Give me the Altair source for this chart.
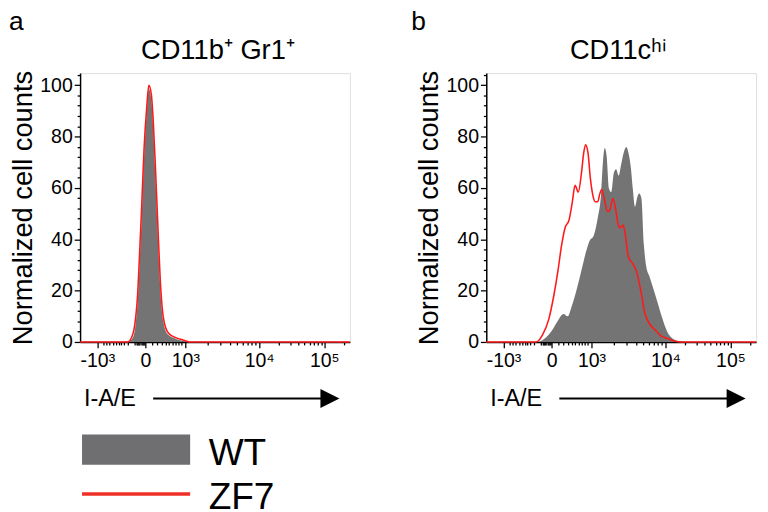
import altair as alt
import pandas as pd

FONT = "Liberation Sans"
GRAY = "#747474"
RED = "#ff1a1a"

# I-A/E is shown on a biexponential display scale: positions are display channels (0-1000)
a_wt_ch = [180, 197, 208, 214, 220, 228, 238, 248, 255, 263, 270, 278, 287, 296, 308, 325, 355, 380, 400]
a_wt_val = [0, 2, 9, 16.5, 29, 48, 73.5, 90.5, 98.5, 95, 85, 67, 44.5, 23, 8.2, 3, 1.2, 0.5, 0]
a_zf7_ch = [0, 177, 195, 207, 213, 219, 227, 237, 247, 255, 264, 271, 279, 288, 297, 309, 327, 357, 381, 405, 1000]
a_zf7_val = [0, 0, 2.9, 10.5, 18, 30.7, 49.7, 75, 91.4, 100, 96.4, 86.3, 68.6, 45.9, 24.4, 9.2, 3.5, 1.6, 0.8, 0, 0]

b_wt_ch = [196, 220, 244, 266, 286, 302, 317, 335, 353, 371, 383, 398, 413, 425, 433, 439, 446, 455,
           463, 473, 481, 491, 499, 509, 519, 527, 535, 543, 551, 560, 567, 575, 584, 593, 605, 620,
           635, 653, 671, 690, 714, 732]
b_wt_val = [0, 1.6, 4.6, 8.4, 10.9, 10, 14, 20.4, 28, 35.6, 39.4, 41.4, 48.3, 57.1, 71.1, 75.5, 72.4, 59.7,
            58.4, 66, 67.3, 64.8, 68.6, 73.6, 75.9, 73.6, 68.6, 59.7, 52.7, 56.5, 57.8, 55.9, 38.1, 29.3, 25.5, 20.4,
            15.3, 9, 3.9, 1.4, 0.4, 0]
b_zf7_ch = [0, 184, 208, 232, 250, 266, 278, 292, 307, 319, 329, 341, 353, 361, 368, 377, 386, 395, 404,
            413, 421, 428, 437, 449, 458, 469, 479, 489, 497, 507, 515, 527, 543, 557, 572, 587, 605,
            627, 647, 671, 696, 720, 1000]
b_zf7_val = [0, 0, 2.7, 9, 17.9, 28, 36.9, 44.5, 47.6, 54.6, 61, 58.4, 66, 73.6, 76.8, 73.6, 63.5, 57.1, 54.6,
             54.6, 57.8, 59.4, 55.9, 50.8, 51.4, 55.9, 52.1, 45.7, 44.5, 45.5, 41.9, 33, 30.5, 27.4, 20.4, 11.5, 7.1,
             4.6, 2.4, 1.4, 0.4, 0, 0]

# axis ticks (display channels)
x_major = [64, 242, 390, 664, 905]
x_major_labels = ["-10³", "0", "10³", "10⁴", "10⁵"]
x_minor = [86, 97, 109, 122, 134, 143, 152, 162, 176, 202, 208, 213, 218, 222, 226, 230, 234, 238,
           266, 284, 302, 317, 330, 342, 354, 365, 374,
           472, 521, 555, 581, 603, 622, 637, 651,
           736, 779, 809, 832, 851, 868, 882, 894, 977]
y_ticks = list(range(0, 105, 4))

series = ["WT", "ZF7"]
series_colors = ["#6f6f71", "#ee3026"]
series_widths = [31, 3.5]
legend_rows = [386.5, 432]

panel_titles = ["CD11b⁺ Gr1⁺", "CD11cʰⁱ"]
panel_letters = ["a", "b"]

W, H = 277, 276

label_expr = "''"
for v, l in reversed(list(zip(x_major, x_major_labels))):
    label_expr = f"datum.value === {v} ? '{l}' : " + label_expr


def panel(wt_ch, wt_val, zf_ch, zf_val, title, title_dx, letter, letter_x, with_legend):
    wt = pd.DataFrame({"ch": wt_ch, "val": wt_val})
    zf = pd.DataFrame({"ch": zf_ch, "val": zf_val})
    xscale = alt.Scale(domain=[0, 1000], nice=False, zero=False)
    yscale = alt.Scale(domain=[0, 104.7], nice=False)
    xaxis = alt.Axis(
        values=sorted(x_major + x_minor), labelExpr=label_expr, title=None,
        tickSize={"condition": {"test": f"indexof({x_major}, datum.value) >= 0", "value": 6}, "value": 3},
        labelFont=FONT, labelFontSize=20, labelColor="black", labelOverlap=False, labelFlush=False,
        labelPadding=3, domainColor="black", domainWidth=1.5, tickColor="black", tickWidth=1.3, grid=False,
    )
    yaxis = alt.Axis(
        values=y_ticks, labelExpr="datum.value % 20 === 0 ? datum.label : ''",
        tickSize={"condition": {"test": "datum.value % 20 === 0", "value": 6}, "value": 3},
        title="Normalized cell counts", titleFont=FONT, titleFontSize=28, titleFontWeight="normal",
        titleColor="black", titlePadding=3,
        labelFont=FONT, labelFontSize=20, labelColor="black", labelOverlap=False, labelPadding=2,
        domainColor="black", domainWidth=1.5, tickColor="black", tickWidth=1.3, grid=False,
    )
    area = alt.Chart(wt).mark_area(color=GRAY, interpolate="monotone", opacity=1).encode(
        x=alt.X("ch:Q", scale=xscale, axis=xaxis),
        y=alt.Y("val:Q", scale=yscale, axis=yaxis),
    )
    line = alt.Chart(zf).mark_line(color=RED, strokeWidth=1.6, interpolate="monotone").encode(
        x=alt.X("ch:Q", scale=xscale, axis=xaxis), y=alt.Y("val:Q", scale=yscale, axis=yaxis)
    )
    one = pd.DataFrame({"t": [letter], "xt": ["I-A/E"], "title": [title]})
    let = alt.Chart(one).mark_text(align="left", baseline="alphabetic", fontSize=27, font=FONT, color="black").encode(
        x=alt.value(letter_x), y=alt.value(-44), text="t:N")
    ttl = alt.Chart(one).mark_text(align="center", baseline="alphabetic", fontSize=28, font=FONT, color="black").encode(
        x=alt.value(W / 2 + title_dx), y=alt.value(-15), text="title:N")
    xt = alt.Chart(one).mark_text(align="left", baseline="alphabetic", fontSize=24, font=FONT, color="black").encode(
        x=alt.value(4), y=alt.value(342), text="xt:N")
    arrow = alt.Chart(one).mark_rule(color="black", strokeWidth=2).encode(
        x=alt.value(75), x2=alt.value(250), y=alt.value(334))
    head = alt.Chart(one).mark_point(shape="M-1,-1L1,0L-1,1Z", filled=True, size=380, color="black", opacity=1).encode(
        x=alt.value(256.5), y=alt.value(334))
    layers = [area, line, let, ttl, xt, arrow, head]
    if with_legend:
        for s, c, w, ry in zip(series, series_colors, series_widths, legend_rows):
            d = pd.DataFrame({"series": [s]})
            sw = alt.Chart(d).mark_rule(strokeCap="butt", color=c, strokeWidth=w).encode(
                x=alt.value(2), x2=alt.value(113), y=alt.value(ry))
            tx = alt.Chart(d).mark_text(align="left", baseline="alphabetic", dy=15.5, fontSize=38, font=FONT,
                                        color="black").encode(x=alt.value(132), y=alt.value(ry), text="series:N")
            layers += [sw, tx]
    return alt.layer(*layers).properties(width=W, height=H)


pa = panel(a_wt_ch, a_wt_val, a_zf7_ch, a_zf7_val, panel_titles[0], 3, panel_letters[0], -73, True)
pb = panel(b_wt_ch, b_wt_val, b_zf7_ch, b_zf7_val, panel_titles[1], -3, panel_letters[1], -77, False)

chart = alt.hconcat(pa, pb, spacing=58).properties(
    padding={"left": 0, "top": -7, "right": 0, "bottom": 0}
).configure_view(stroke="#8c8c8c", strokeWidth=1).configure_axis(labelOverlap=False).configure(background="white")

chart.save("out.html", embed_options={"renderer": "svg", "actions": False})
